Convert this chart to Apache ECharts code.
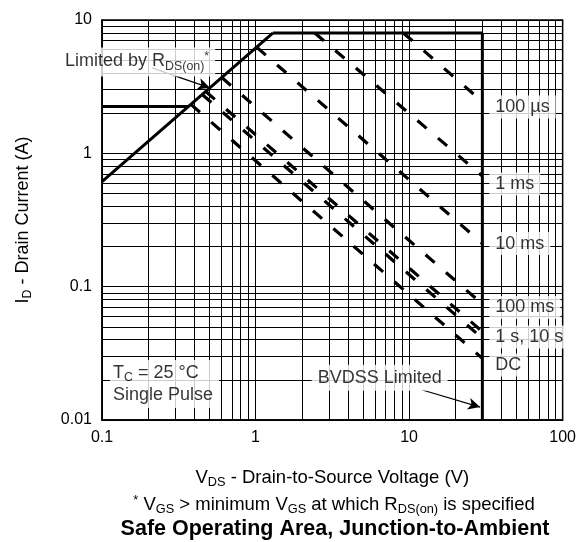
<!DOCTYPE html>
<html><head><meta charset="utf-8">
<script src="https://cdn.jsdelivr.net/npm/echarts@6/dist/echarts.min.js"></script>
<style>html,body{margin:0;padding:0;background:#fff}#c{width:579px;height:542px}</style>
</head><body><div id="c"></div>
<script>
// ---- data ----
const xTickLabels = ['0.1', '1', '10', '100'];
const yTickLabels = ['0.01', '0.1', '1', '10'];
const xMinorGrid = [0.2,0.3,0.4,0.5,0.6,0.7,0.8,0.9, 2,3,4,5,6,7,8,9, 20,30,40,50,60,70,80,90];
const yMinorGrid = [0.02,0.03,0.04,0.05,0.06,0.07,0.08,0.09, 0.2,0.3,0.4,0.5,0.6,0.7,0.8,0.9, 2,3,4,5,6,7,8,9];
const rdsLimit = [[0.1, 0.613], [1.3, 8]];
const currentLimit = [[1.3, 8], [30, 8]];
const bvdssLimit = [[30, 8], [30, 0.01]];
const pulseLimit = [[0.1, 2.25], [0.37, 2.25]];
const soa100us = [[9.17, 8], [30, 2.44]];
const soa1ms = [[2.43, 8], [30, 0.676]];
const soa10ms = [[1.018, 6.25], [30, 0.211]];
const soa100ms = [[0.603, 3.70], [30, 0.074]];
const soa1s = [[0.474, 2.91], [30, 0.046]];
const soa10s = [[0.450, 2.76], [30, 0.041]];
const soaDC = [[0.379, 2.33], [30, 0.029]];
const soaLabels = ['100 µs', '1 ms', '10 ms', '100 ms', '1 s, 10 s', 'DC'];

// ---- chart ----
const FONT = '"Liberation Sans", Arial, Helvetica, sans-serif';
const chart = echarts.init(document.getElementById('c'), null, {renderer: 'canvas'});
const mk = (size) => ({
  n: {fontSize: size, lineHeight: 22, fontFamily: FONT, color: '#000'},
  s: {fontSize: size * 0.69, lineHeight: 12, verticalAlign: 'bottom', fontFamily: FONT, color: '#000'},
  p: {fontSize: size * 0.69, lineHeight: 12, verticalAlign: 'top', fontFamily: FONT, color: '#000'}
});
const rich18 = mk(18);
const rich185 = mk(18.5);

const solid = (data) => ({type: 'line', data, symbol: 'none', z: 3, silent: true,
  lineStyle: {color: '#000', width: 3}});
const dashed = (data) => ({type: 'line', data, symbol: 'none', z: 3, silent: true,
  lineStyle: {color: '#000', width: 3.2, type: [12, 15], cap: 'butt'}});

const gridLineData = xMinorGrid.map(v => ({xAxis: v})).concat(yMinorGrid.map(v => ({yAxis: v})));

const labelBox = {show: true, position: 'right', distance: 0, color: '#000', fontSize: 18,
  fontFamily: FONT, backgroundColor: '#fff', padding: [3, 6, 2, 6]};

const option = {
  animation: false,
  backgroundColor: '#fff',
  grid: {left: 102, right: 15.5, top: 20, bottom: 122, show: true, borderColor: '#000', borderWidth: 1.5, backgroundColor: 'transparent'},
  xAxis: {
    type: 'log', logBase: 10, min: 0.1, max: 100,
    axisLine: {show: true, lineStyle: {color: '#000', width: 1.5}},
    axisTick: {show: false},
    splitLine: {show: true, lineStyle: {color: '#000', width: 1}},
    axisLabel: {color: '#000', fontSize: 16, fontFamily: FONT, margin: 10,
      formatter: v => { const i = Math.round(Math.log10(v)) + 1; return xTickLabels[i] || ''; }},
    name: '{n|V}{s|DS}{n| - Drain-to-Source Voltage (V)}',
    nameLocation: 'middle', nameGap: 47,
    nameTextStyle: {rich: rich185}
  },
  yAxis: {
    type: 'log', logBase: 10, min: 0.01, max: 10,
    axisLine: {show: true, lineStyle: {color: '#000', width: 1.5}},
    axisTick: {show: false},
    splitLine: {show: true, lineStyle: {color: '#000', width: 1}},
    axisLabel: {color: '#000', fontSize: 16, fontFamily: FONT, margin: 10,
      formatter: v => { const i = Math.round(Math.log10(v)) + 2; return yTickLabels[i] || ''; }},
    name: '{n|I}{s|D}{n| - Drain Current (A)}',
    nameLocation: 'middle', nameGap: 68, nameRotate: 90,
    nameTextStyle: {rich: rich18}
  },
  graphic: [
    {type: 'text', x: 334, y: 505, z: 10,
      style: {text: '{p|*}{n| V}{s|GS}{n| > minimum V}{s|GS}{n| at which R}{s|DS(on)}{n| is specified}',
        rich: rich185, align: 'center', verticalAlign: 'middle'}},
    {type: 'text', x: 335, y: 529, z: 10,
      style: {text: 'Safe Operating Area, Junction-to-Ambient', fontSize: 21.5, fontWeight: 'bold',
        fontFamily: FONT, fill: '#000', align: 'center', verticalAlign: 'middle'}}
  ],
  series: [
    {type: 'line', data: [], silent: true, z: 1,
      markLine: {silent: true, symbol: 'none', animation: false, label: {show: false},
        lineStyle: {color: '#000', width: 1, type: 'solid'}, data: gridLineData}},
    solid(rdsLimit), solid(currentLimit), solid(bvdssLimit), solid(pulseLimit),
    dashed(soa100us), dashed(soa1ms), dashed(soa10ms), dashed(soa100ms),
    dashed(soa1s), dashed(soa10s), dashed(soaDC),
    {type: 'line', data: [], silent: true, z: 4,
      markLine: {silent: true, animation: false, symbol: ['none', 'arrow'], symbolSize: [9, 12], label: {show: false},
        lineStyle: {color: '#000', width: 1.2, type: 'solid'},
        data: [
          [{coord: [0.211, 4.37]}, {coord: [0.504, 3.10]}],
          [{coord: [12.2, 0.0168]}, {coord: [29.0, 0.0125]}]
        ]}},
    {type: 'scatter', symbolSize: 0, z: 6, clip: false, silent: true,
      label: labelBox,
      data: [
        {value: [33.3, 2.23], label: {formatter: soaLabels[0]}},
        {value: [33.3, 0.589], label: {formatter: soaLabels[1]}},
        {value: [33.3, 0.2104], label: {formatter: soaLabels[2]}},
        {value: [33.3, 0.0698], label: {formatter: soaLabels[3]}},
        {value: [33.3, 0.0420], label: {formatter: soaLabels[4]}},
        {value: [33.3, 0.0259], label: {formatter: soaLabels[5]}},
        {value: [0.0525, 4.84], label: {formatter: '{n|Limited by R}{s|DS(on)}{p|*}', rich: rich18, padding: [3, 6, 4, 6]}},
        {value: [2.32, 0.0207], label: {formatter: 'BVDSS Limited', padding: [4, 6, 4, 6]}},
        {value: [0.1127, 0.0186], label: {formatter: '{n|T}{s|C}{n| = 25 °C}\n{n|Single Pulse}', rich: rich18, padding: [2, 6, 2, 3]}}
      ]}
  ]
};
chart.setOption(option);
</script></body></html>
